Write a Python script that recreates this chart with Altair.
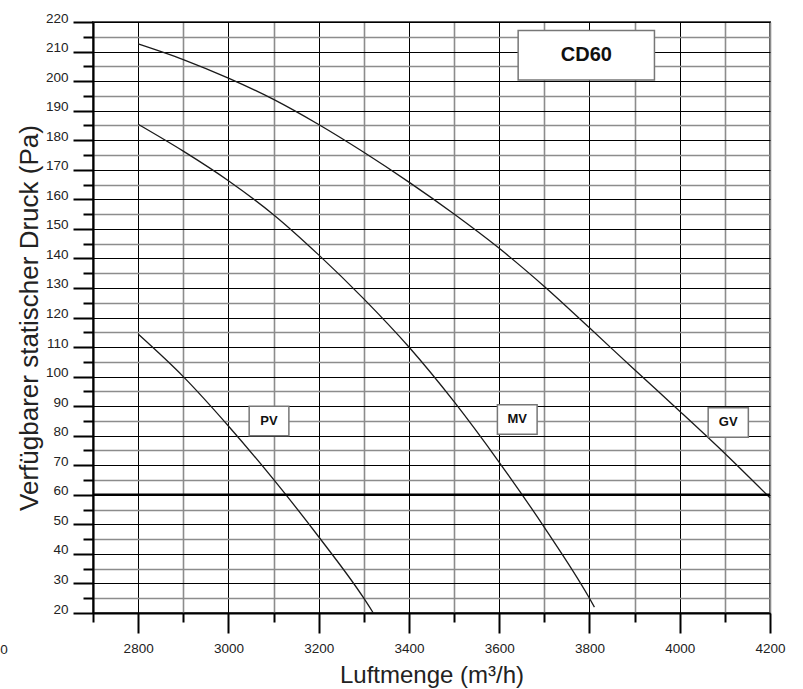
import altair as alt
import pandas as pd

# ---- data ----
gv_x = [2800, 2900, 3000, 3100, 3200, 3300, 3400, 3500, 3600, 3700, 3800, 3900, 4000, 4100, 4200]
gv_y = [212.6, 207.3, 201.0, 193.8, 185.3, 175.9, 165.8, 155.0, 143.4, 130.5, 116.5, 102.3, 88.3, 74.0, 59.0]

mv_x = [2800, 2900, 3000, 3100, 3200, 3300, 3400, 3500, 3600, 3700, 3800, 3811]
mv_y = [185.4, 176.3, 166.3, 154.8, 141.2, 126.3, 110.0, 91.5, 71.0, 49.0, 25.0, 22.0]

pv_x = [2800, 2900, 3000, 3100, 3200, 3300, 3321]
pv_y = [114.4, 100.0, 83.3, 65.2, 45.8, 25.0, 20.0]

box_text = ["PV", "MV", "GV", "CD60"]
box_x1 = [3046, 3596, 4063, 3642]
box_x2 = [3134, 3684, 4152, 3944]
box_y1 = [80.0, 80.5, 79.5, 200.4]
box_y2 = [90.0, 90.5, 89.5, 217.1]

limit_y = [60]
stray_text = ["0"]
stray_x = [2503]
stray_y = [20]

x_ticks = list(range(2700, 4201, 100))
y_ticks = list(range(20, 221, 5))

FONT = "Liberation Sans"

curves = pd.concat([
    pd.DataFrame({"curve": "GV", "x": gv_x, "y": gv_y}),
    pd.DataFrame({"curve": "MV", "x": mv_x, "y": mv_y}),
    pd.DataFrame({"curve": "PV", "x": pv_x, "y": pv_y}),
], ignore_index=True)

boxes = pd.DataFrame({"t": box_text, "x1": box_x1, "x2": box_x2, "y1": box_y1, "y2": box_y2})
boxes["cx"] = (boxes["x1"] + boxes["x2"]) / 2
boxes["cy"] = (boxes["y1"] + boxes["y2"]) / 2
small = boxes[boxes["t"] != "CD60"]
big = boxes[boxes["t"] == "CD60"]

xscale = alt.Scale(domain=[2700, 4200], nice=False, zero=False)
yscale = alt.Scale(domain=[20, 220], nice=False, zero=False)

xaxis = alt.Axis(
    values=x_ticks,
    labelExpr="datum.value % 200 === 0 ? format(datum.value, 'd') : ''",
    title="Luftmenge (m³/h)",
    titleFont=FONT, titleFontSize=24, titleFontWeight="normal", titleColor="#222",
    titleBaseline="alphabetic", titleY=69,
    labelFont=FONT, labelFontSize=13.5, labelColor="#222",
    labelFlush=False, labelOverlap=False, labelPadding=8,
    tickColor="#000", tickWidth=2,
    tickSize={"condition": {"test": "datum.value % 200 === 0", "value": 20}, "value": 9},
    domainColor="#000", domainWidth=2,
    grid=True,
    gridColor={"condition": {"test": "datum.value % 200 === 0 && datum.value < 4200", "value": "#000"}, "value": "#8c8c8c"},
    gridWidth={"condition": {"test": "datum.value % 200 === 0 && datum.value < 4200", "value": 1}, "value": 1.6},
)

yaxis = alt.Axis(
    values=y_ticks,
    labelExpr="datum.value % 10 === 0 ? format(datum.value, 'd') : ''",
    title="Verfügbarer statischer Druck (Pa)",
    titleFont=FONT, titleFontSize=26, titleFontWeight="normal", titleColor="#222",
    titleBaseline="alphabetic", titleX=-56, titleAngle=-90,
    labelFont=FONT, labelFontSize=13.5, labelColor="#222",
    labelFlush=False, labelOverlap=False, labelPadding=5, labelBaseline="alphabetic",
    tickColor="#000", tickWidth=2,
    tickSize={"condition": {"test": "datum.value % 10 === 0", "value": 20}, "value": 10},
    domainColor="#000", domainWidth=2,
    grid=True,
    gridColor={"condition": {"test": "datum.value % 10 === 0", "value": "#000"}, "value": "#8c8c8c"},
    gridWidth={"condition": {"test": "datum.value % 10 === 0", "value": 1}, "value": 1.6},
)


def X(field):
    return alt.X(field, scale=xscale, axis=xaxis)


def Y(field):
    return alt.Y(field, scale=yscale, axis=yaxis)


lines = alt.Chart(curves).mark_line(
    color="#1a1a1a", strokeWidth=1.3, interpolate="monotone"
).encode(x=X("x:Q"), y=Y("y:Q"), detail="curve:N")

limit = alt.Chart(pd.DataFrame({"y": limit_y})).mark_rule(
    color="#000", strokeWidth=2.5
).encode(y=Y("y:Q"))

rects = alt.Chart(boxes).mark_rect(
    fill="white", stroke="#777", strokeWidth=1.5
).encode(x=X("x1:Q"), x2="x2:Q", y=Y("y1:Q"), y2="y2:Q")

small_text = alt.Chart(small).mark_text(
    font=FONT, fontSize=13, fontWeight="bold", color="#111", baseline="middle", align="center"
).encode(x=X("cx:Q"), y=Y("cy:Q"), text="t:N")

big_text = alt.Chart(big).mark_text(
    font=FONT, fontSize=20, fontWeight="bold", color="#111", baseline="middle", align="center"
).encode(x=X("cx:Q"), y=Y("cy:Q"), text="t:N")

stray = alt.Chart(pd.DataFrame({"t": stray_text, "x": stray_x, "y": stray_y})).mark_text(
    font=FONT, fontSize=13.5, color="#222", baseline="middle", align="center", dy=37, clip=False
).encode(x=X("x:Q"), y=Y("y:Q"), text="t:N")

chart = alt.layer(lines, limit, rects, small_text, big_text, stray).properties(
    width=677, height=591,
    autosize=alt.AutoSizeParams(type="none"),
    padding={"left": 93, "top": 22, "right": 33, "bottom": 76},
    background="white",
).configure_view(stroke="#555", strokeWidth=2)

chart.save("out.html", embed_options={"renderer": "svg", "actions": False})
